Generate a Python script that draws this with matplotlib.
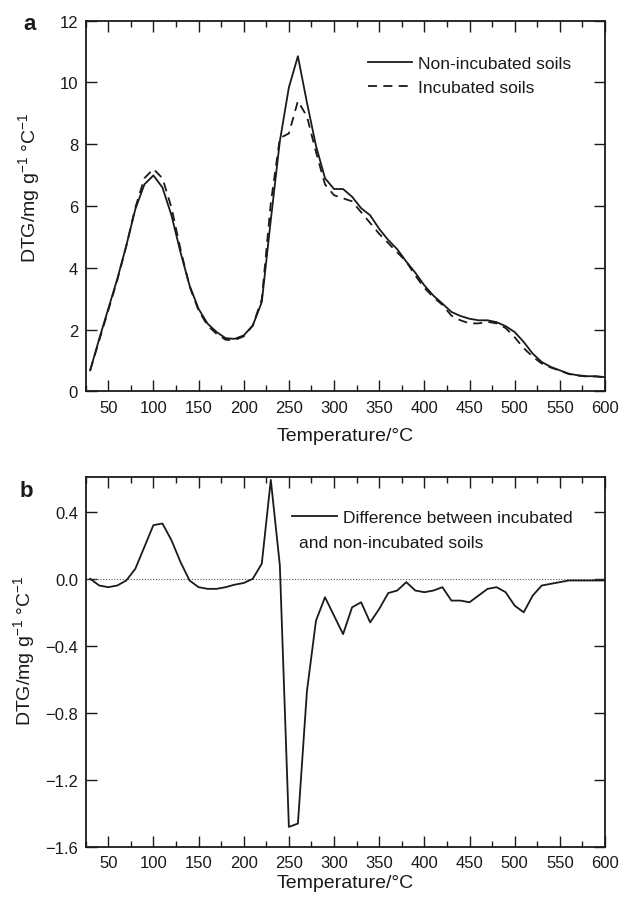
import matplotlib
matplotlib.use("Agg")
from matplotlib import pyplot as plt
from matplotlib.ticker import MultipleLocator, FuncFormatter

plt.rcParams['font.family'] = ['Liberation Sans', 'DejaVu Sans']
plt.rcParams['mathtext.fontset'] = 'custom'
plt.rcParams['mathtext.rm'] = 'Liberation Sans'
plt.rcParams['mathtext.it'] = 'Liberation Sans:italic'
plt.rcParams['mathtext.bf'] = 'Liberation Sans:bold'

# temperatures for both panels (every 10 degC)
temp = [30, 40, 50, 60, 70, 80, 90, 100, 110, 120, 130, 140, 150, 160, 170, 180,
        190, 200, 210, 220, 230, 240, 250, 260, 270, 280, 290, 300, 310, 320,
        330, 340, 350, 360, 370, 380, 390, 400, 410, 420, 430, 440, 450, 460,
        470, 480, 490, 500, 510, 520, 530, 540, 550, 560, 570, 580, 590, 600]

# panel a - DTG curves
non_incubated = [0.68, 1.7, 2.67, 3.64, 4.72, 5.9, 6.7, 6.99, 6.6, 5.7, 4.5, 3.43,
                 2.67, 2.19, 1.92, 1.72, 1.7, 1.81, 2.13, 2.89, 5.55, 8.1, 9.84,
                 10.85, 9.35, 7.95, 6.9, 6.55, 6.55, 6.3, 5.93, 5.7, 5.26, 4.9,
                 4.6, 4.2, 3.84, 3.43, 3.1, 2.84, 2.57, 2.44, 2.35, 2.3, 2.3, 2.24,
                 2.11, 1.92, 1.6, 1.22, 0.95, 0.79, 0.68, 0.57, 0.52, 0.49, 0.49, 0.46]
incubated = [0.68, 1.65, 2.62, 3.6, 4.7, 5.95, 6.9, 7.2, 6.9, 5.95, 4.6, 3.4,
             2.62, 2.13, 1.86, 1.67, 1.66, 1.78, 2.13, 2.98, 6.1, 8.2, 8.35,
             9.4, 8.9, 7.75, 6.7, 6.35, 6.25, 6.15, 5.8, 5.45, 5.1, 4.8,
             4.5, 4.2, 3.75, 3.35, 3.05, 2.8, 2.45, 2.3, 2.2, 2.2, 2.25, 2.2,
             2.05, 1.75, 1.4, 1.12, 0.9, 0.77, 0.67, 0.56, 0.51, 0.48, 0.48, 0.45]

# panel b - difference (incubated minus non-incubated)
difference = [0.0, -0.04, -0.05, -0.04, -0.01, 0.06, 0.19, 0.32, 0.33, 0.23, 0.10,
              -0.01, -0.05, -0.06, -0.06, -0.05, -0.035, -0.025, 0.0, 0.09, 0.59,
              0.08, -1.48, -1.46, -0.67, -0.25, -0.11, -0.22, -0.33, -0.17, -0.14,
              -0.26, -0.18, -0.085, -0.07, -0.02, -0.07, -0.08, -0.07, -0.05, -0.13,
              -0.13, -0.14, -0.10, -0.06, -0.05, -0.08, -0.16, -0.20, -0.10, -0.04,
              -0.03, -0.02, -0.01, -0.01, -0.01, -0.01, -0.01]

ylabel = "DTG/mg g$^{\u22121}$ \u00b0C$^{\u22121}$"
ink = '#1a1a1a'


def style_axes(ax, xlab_y, ylab_x, ylab_y):
    ax.set_xlim(25, 600)
    ax.xaxis.set_major_locator(MultipleLocator(50))
    ax.xaxis.set_minor_locator(MultipleLocator(25))
    ax.tick_params(which='both', direction='in', top=True, right=True,
                   labelsize=12, width=1.0, color=ink, labelcolor=ink)
    ax.tick_params(which='major', length=7.7)
    ax.tick_params(which='minor', length=4)
    ax.tick_params(axis='x', pad=6)
    ax.tick_params(axis='y', pad=5.5)
    for s in ax.spines.values():
        s.set_linewidth(1.3)
        s.set_color(ink)
    ax.set_xlabel("Temperature/\u00b0C", fontsize=14, color=ink)
    ax.xaxis.label.set_va('center')
    ax.xaxis.set_label_coords(0.5, xlab_y)
    ax.set_ylabel(ylabel, fontsize=14, color=ink)
    ax.yaxis.label.set_va('center')
    ax.yaxis.set_label_coords(ylab_x, ylab_y)


fig = plt.figure(figsize=(6.24, 9.04), dpi=100)

# panel a
ax1 = fig.add_axes([0.1373, 0.566, 0.8322, 0.41])
ax1.plot(temp, non_incubated, color=ink, lw=1.3, label="Non-incubated soils")
ax1.plot(temp, incubated, color=ink, lw=1.3, ls=(0, (5, 3.5)), label="Incubated soils")
ax1.set_ylim(0, 12)
ax1.yaxis.set_major_locator(MultipleLocator(2))
style_axes(ax1, -0.118, -0.110, 0.551)
leg = ax1.legend(loc='upper left', bbox_to_anchor=(0.544, 0.905), frameon=False,
                 fontsize=12.5, handlelength=2.55, handletextpad=0.3,
                 labelspacing=0.52, borderaxespad=0, borderpad=0)
for t in leg.get_texts():
    t.set_color(ink)
fig.text(0.048, 0.9668, "a", fontsize=16, fontweight='bold', ha='center',
         va='baseline', color=ink)

# panel b
ax2 = fig.add_axes([0.1373, 0.0619, 0.8322, 0.4093])
ax2.axhline(0, color='#555555', lw=0.8, ls=(0, (1, 1.5)))
ax2.plot(temp, difference, color=ink, lw=1.3, label="Difference between incubated")
ax2.set_ylim(-1.6, 0.607)
ax2.yaxis.set_major_locator(MultipleLocator(0.4))
ax2.yaxis.set_major_formatter(FuncFormatter(lambda v, p: ("%.1f" % v).replace("-", "\u2212")))
style_axes(ax2, -0.095, -0.119, 0.532)
leg2 = ax2.legend(loc='upper left', bbox_to_anchor=(0.398, 0.912), frameon=False,
                  fontsize=12.5, handlelength=2.6, handletextpad=0.3,
                  borderaxespad=0, borderpad=0)
for t in leg2.get_texts():
    t.set_color(ink)
ax2.text(0.41, 0.822, "and non-incubated soils", transform=ax2.transAxes,
         fontsize=12.5, va='center', ha='left', color=ink)
fig.text(0.0417, 0.4502, "b", fontsize=16, fontweight='bold', ha='center',
         va='baseline', color=ink)

fig.savefig("out.png", dpi=100)
